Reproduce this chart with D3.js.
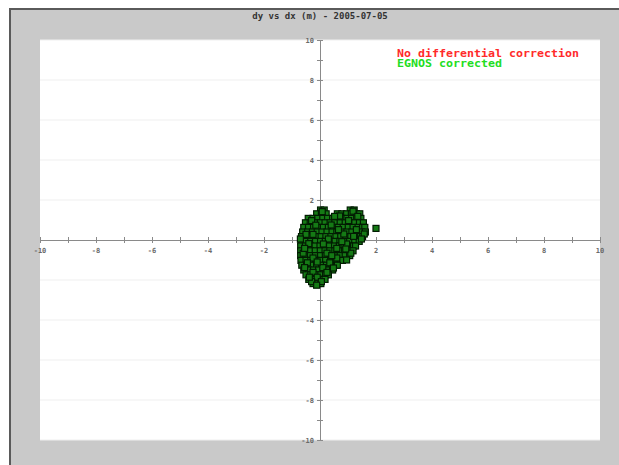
<!DOCTYPE html>
<html>
<head>
<meta charset="utf-8">
<script src="https://cdn.jsdelivr.net/npm/d3@7"></script>
<style>
  html, body { margin: 0; padding: 0; background: #ffffff; }
  svg { display: block; }
</style>
</head>
<body>
<svg id="chart" width="619" height="465"></svg>
<script>
// Position error of a receiver, dy against dx in metres.
const titleText = "dy vs dx (m) - 2005-07-05";
const seriesNames = ["No differential correction", "EGNOS corrected"];
const seriesColors = ["#ff2a2a", "#22dd22"];
const axisTicks = [-10, -9, -8, -7, -6, -5, -4, -3, -2, -1, 0, 1, 2, 3, 4, 5, 6, 7, 8, 9, 10];
const tickLabels = [-10, -8, -6, -4, -2, 2, 4, 6, 8, 10];

// Uncorrected fixes (lie underneath the corrected cloud)
const rawPoints = [
  [0.3, 0.2], [0.5, -0.3], [0.1, -0.8], [0.7, 0.5], [-0.2, 0.1], [0.2, -1.2]
];

// Corrected fixes, listed row by row: dy then the dx values on that row
const egnosRows = [
  [1.50, [0.02, 0.15, 1.08, 1.22]],
  [1.31, [-0.12, 0.05, 0.22, 0.62, 0.78, 0.95, 1.12, 1.30, 1.42]],
  [1.08, [-0.42, -0.25, -0.08, 0.10, 0.27, 0.45, 0.60, 0.79, 0.96, 1.13, 1.31, 1.46]],
  [0.86, [-0.52, -0.35, -0.17, 0.01, 0.18, 0.36, 0.53, 0.72, 0.90, 1.06, 1.24, 1.41, 1.55]],
  [0.63, [-0.58, -0.41, -0.23, -0.06, 0.12, 0.30, 0.48, 0.65, 0.83, 1.01, 1.18, 1.36, 1.52, 1.60]],
  [0.40, [-0.62, -0.44, -0.27, -0.10, 0.07, 0.25, 0.43, 0.60, 0.78, 0.96, 1.14, 1.31, 1.49, 1.62]],
  [0.17, [-0.66, -0.48, -0.31, -0.13, 0.04, 0.21, 0.39, 0.57, 0.74, 0.92, 1.10, 1.27, 1.44, 1.52]],
  [-0.07, [-0.68, -0.51, -0.33, -0.16, 0.02, 0.19, 0.36, 0.54, 0.71, 0.89, 1.06, 1.24, 1.40]],
  [-0.30, [-0.69, -0.52, -0.35, -0.18, 0.00, 0.17, 0.34, 0.52, 0.69, 0.86, 1.04, 1.20, 1.27]],
  [-0.54, [-0.69, -0.52, -0.34, -0.17, 0.01, 0.18, 0.35, 0.53, 0.70, 0.88, 1.03, 1.18]],
  [-0.78, [-0.69, -0.51, -0.34, -0.16, 0.02, 0.19, 0.37, 0.54, 0.72, 0.90, 1.06]],
  [-1.02, [-0.68, -0.50, -0.33, -0.15, 0.03, 0.20, 0.38, 0.55, 0.72, 0.80]],
  [-1.26, [-0.65, -0.48, -0.30, -0.12, 0.05, 0.23, 0.40, 0.58, 0.62]],
  [-1.50, [-0.58, -0.41, -0.23, -0.05, 0.12, 0.30, 0.45]],
  [-1.74, [-0.50, -0.33, -0.15, 0.03, 0.20, 0.30]],
  [-1.97, [-0.40, -0.23, -0.05, 0.12, 0.18]],
  [-2.18, [-0.25, -0.08, 0.03]]
];

// Scattered corrected fixes between the rows
const egnosExtra = [
  [0.08, 1.42], [1.18, 1.44], [0.70, 1.20], [-0.30, 0.97], [0.40, 0.75], [1.30, 0.52],
  [-0.50, 0.28], [0.85, 0.30], [1.58, 0.30], [0.30, 0.05], [-0.40, -0.18], [0.95, -0.20],
  [0.60, -0.42], [-0.60, -0.66], [0.25, -0.66], [1.10, -0.66], [-0.25, -0.90], [0.60, -0.90],
  [-0.45, -1.14], [0.35, -1.14], [0.10, -1.38], [-0.55, -1.38], [-0.25, -1.62], [0.25, -1.62],
  [-0.10, -1.86], [-0.30, -2.08], [0.05, -2.08], [-0.12, -2.26],
  [0.52, 1.18], [1.02, 0.97], [-0.15, 0.74], [0.66, 0.52], [1.20, 0.18], [-0.25, 0.28],
  [0.12, -0.20], [0.78, -0.08], [-0.55, -0.42], [0.42, -0.78], [0.92, -0.45], [-0.10, -1.10],
  [0.48, -1.40], [-0.38, -1.86], [1.35, 1.18], [1.48, 0.05], [-0.70, 0.05], [0.95, -1.00],
  [2.00, 0.58]
];

const egnosPoints = egnosRows.flatMap(([dy, xs]) => xs.map(dx => [dx, dy])).concat(egnosExtra);

const svg = d3.select("#chart");

// Frame: grey panel with a dark edge on the top and the left
svg.append("rect").attr("x", 9).attr("y", 8).attr("width", 610).attr("height", 457).attr("fill", "#c9c9c9");
svg.append("rect").attr("x", 9).attr("y", 8).attr("width", 610).attr("height", 2).attr("fill", "#5a5a5a");
svg.append("rect").attr("x", 9).attr("y", 8).attr("width", 2).attr("height", 457).attr("fill", "#5a5a5a");

const plot = { left: 40, top: 40, right: 600, bottom: 440 };
svg.append("rect")
  .attr("x", plot.left).attr("y", plot.top)
  .attr("width", plot.right - plot.left).attr("height", plot.bottom - plot.top)
  .attr("fill", "#ffffff");

const x = d3.scaleLinear().domain([-10, 10]).range([plot.left, plot.right]);
const y = d3.scaleLinear().domain([-10, 10]).range([plot.bottom, plot.top]);

// Faint horizontal grid at the labelled values
svg.append("g").selectAll("line").data(tickLabels).join("line")
  .attr("x1", plot.left).attr("x2", plot.right)
  .attr("y1", d => y(d)).attr("y2", d => y(d))
  .attr("stroke", "#efefef").attr("stroke-width", 1);

// Axes crossing at the origin
const xAxis = d3.axisBottom(x).tickValues(axisTicks).tickSize(3).tickFormat("");
const yAxis = d3.axisLeft(y).tickValues(axisTicks).tickSize(3).tickFormat("");

const gx = svg.append("g").attr("transform", `translate(0,${y(0)})`).call(xAxis);
const gy = svg.append("g").attr("transform", `translate(${x(0)},0)`).call(yAxis);
[gx, gy].forEach(g => {
  g.select(".domain").attr("stroke", "#8a8a8a");
  g.selectAll(".tick line").attr("stroke", "#8a8a8a");
});
gx.selectAll(".tick line").attr("y1", -3);
gy.selectAll(".tick line").attr("x1", 3);

const labelFont = "'DejaVu Sans Mono', monospace";
svg.append("g").selectAll("text").data(tickLabels).join("text")
  .attr("x", d => x(d)).attr("y", y(0) + 13)
  .attr("text-anchor", "middle")
  .attr("font-family", labelFont).attr("font-size", 7).attr("font-weight", "bold")
  .attr("fill", "#6a6a6a")
  .text(d => d);
svg.append("g").selectAll("text").data(tickLabels).join("text")
  .attr("x", x(0) - 6).attr("y", d => y(d) + 2.5)
  .attr("text-anchor", "end")
  .attr("font-family", labelFont).attr("font-size", 7).attr("font-weight", "bold")
  .attr("fill", "#6a6a6a")
  .text(d => d);

// Markers: small squares, uncorrected first, corrected on top
const size = 6;
function drawSquares(points, fill, stroke) {
  svg.append("g").selectAll("rect").data(points).join("rect")
    .attr("x", d => x(d[0]) - size / 2)
    .attr("y", d => y(d[1]) - size / 2)
    .attr("width", size).attr("height", size)
    .attr("fill", fill).attr("stroke", stroke).attr("stroke-width", 1.2);
}
drawSquares(rawPoints, "#cc2020", "#300000");
drawSquares(egnosPoints, "#157a15", "#021c02");

// Title
svg.append("text")
  .attr("x", 320).attr("y", 19)
  .attr("text-anchor", "middle")
  .attr("font-family", labelFont).attr("font-size", 9).attr("font-weight", "bold")
  .attr("fill", "#333333")
  .text(titleText);

// Legend
svg.append("g").selectAll("text").data(seriesNames).join("text")
  .attr("x", 397).attr("y", (d, i) => 57 + i * 10)
  .attr("font-family", labelFont).attr("font-size", 10).attr("font-weight", "bold")
  .attr("fill", (d, i) => seriesColors[i])
  .attr("textLength", d => d.length * 7)
  .attr("lengthAdjust", "spacingAndGlyphs")
  .text(d => d);
</script>
</body>
</html>
